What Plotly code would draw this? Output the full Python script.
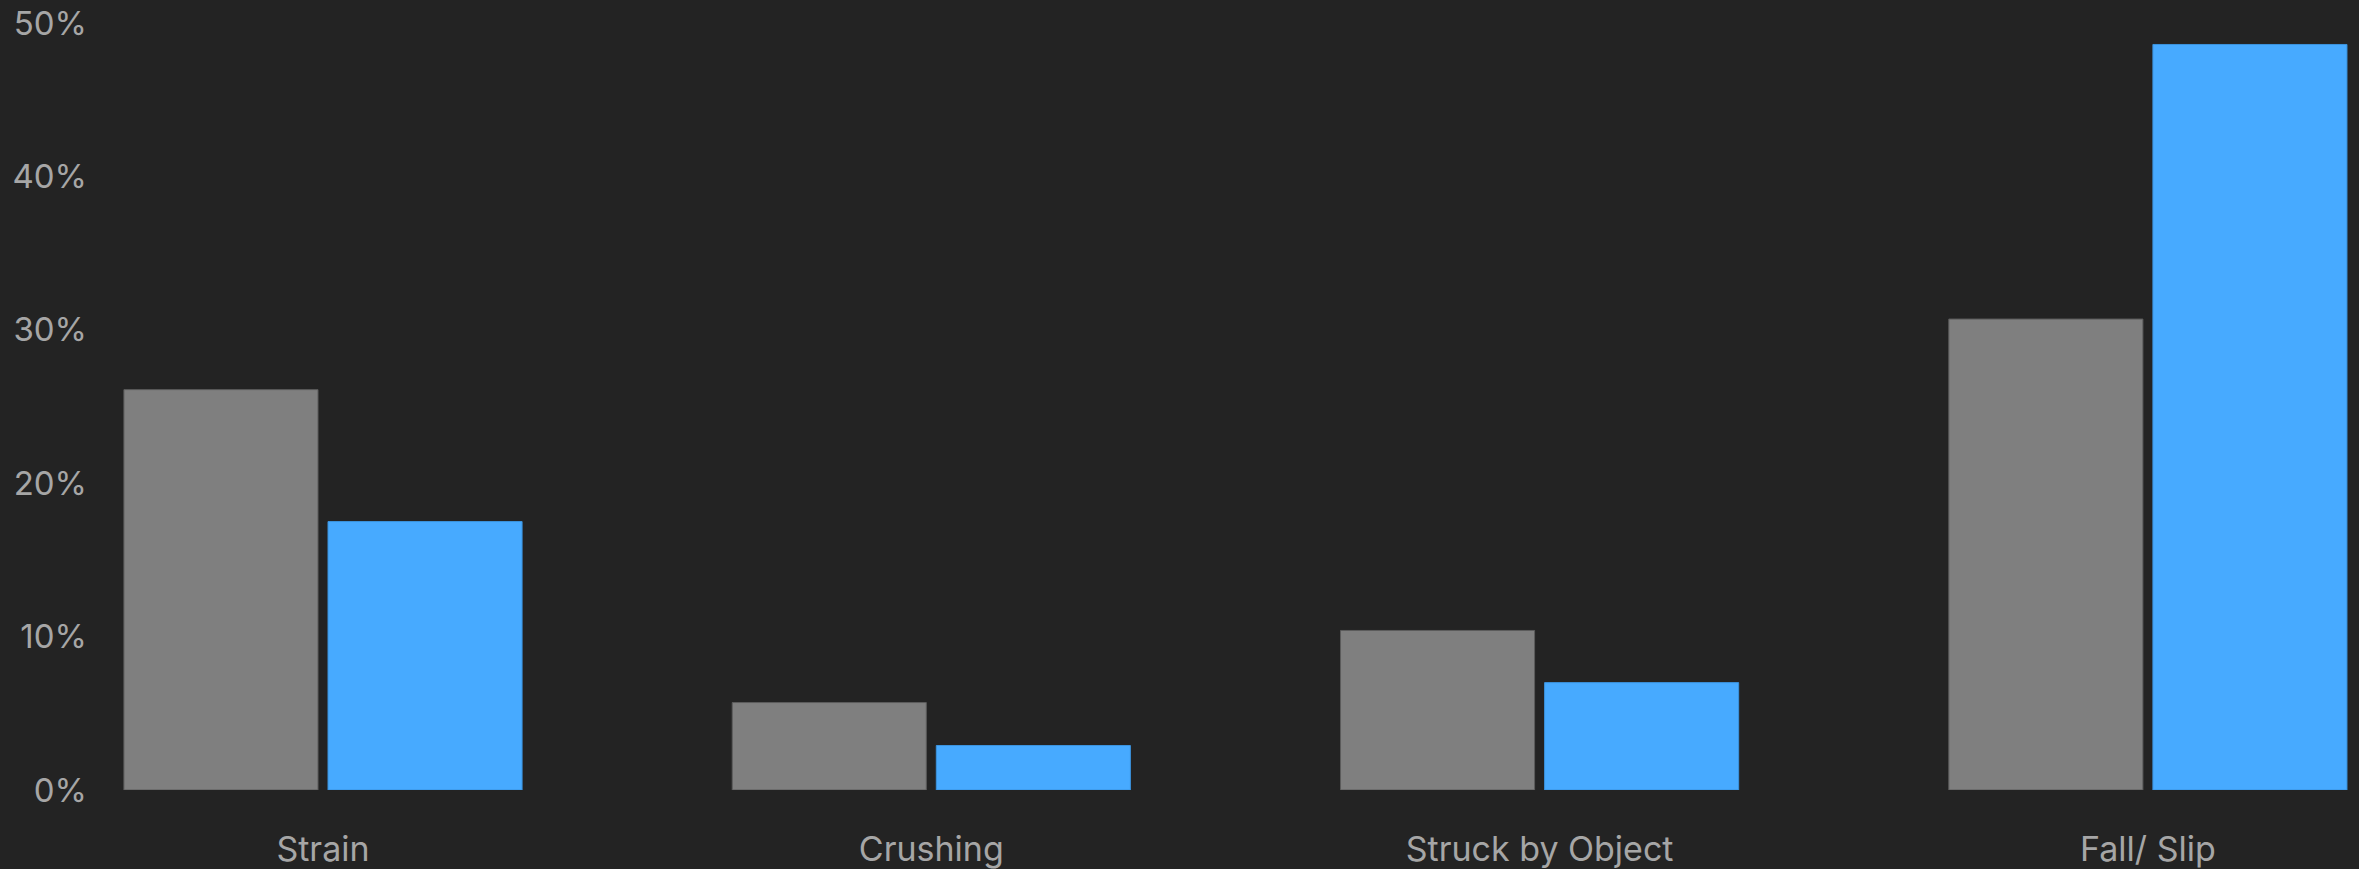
import plotly.graph_objects as go

categories = ["Strain", "Crushing", "Struck by Object", "Fall/ Slip"]
series_a = [26.1, 5.7, 10.4, 30.7]
series_b = [17.5, 2.9, 7.0, 48.6]
y_ticks = [0, 10, 20, 30, 40, 50]
y_tick_labels = ["0%", "10%", "20%", "30%", "40%", "50%"]

GRAY = "#7f7f7f"
BLUE = "#47aaff"
TEXT = "#a6a6a6"
BG = "#232323"

fig = go.Figure()
fig.add_trace(go.Bar(x=categories, y=series_a, name="Series A",
                     marker=dict(color=GRAY, line=dict(color="#5c5c5c", width=1))))
fig.add_trace(go.Bar(x=categories, y=series_b, name="Series B",
                     marker=dict(color=BLUE, line=dict(color="#3b93de", width=1))))

W, H = 2359, 869
L, R, T, B = 100, 0, 23, 76
spacing = 608.3
r0 = -(323 - L) / spacing
r1 = r0 + (W - L - R) / spacing

fig.update_layout(
    width=W, height=H,
    paper_bgcolor=BG, plot_bgcolor=BG,
    margin=dict(l=L, r=R, t=T, b=B),
    barmode="group", bargap=0.329, bargroupgap=0.049,
    showlegend=False,
    font=dict(family="Inter, Open Sans, sans-serif", size=34, color=TEXT),
    xaxis=dict(type="category", range=[r0, r1], showgrid=False, zeroline=False,
               showline=False, ticks="", ticklabelstandoff=36,
               tickfont=dict(size=34, color=TEXT)),
    yaxis=dict(range=[0, 50], tickvals=y_ticks, ticktext=y_tick_labels,
               showgrid=False, zeroline=False, showline=False, ticks="",
               ticklabelstandoff=12, tickfont=dict(size=33, color=TEXT)),
)

fig.write_html("out.html",
               config={"displayModeBar": False},
               post_script="document.body.style.margin='0';document.body.style.overflow='hidden';document.body.style.background='#232323';")
